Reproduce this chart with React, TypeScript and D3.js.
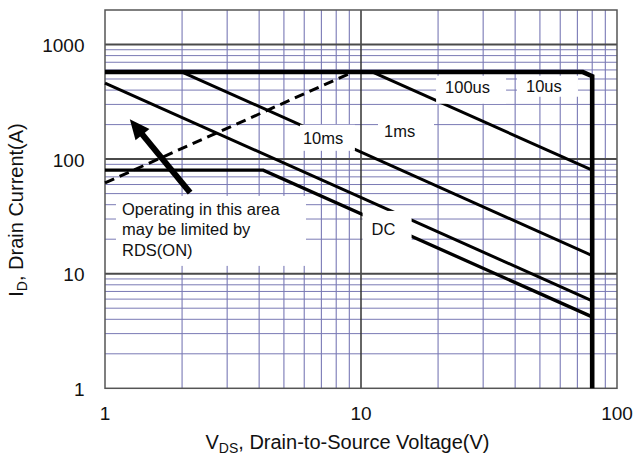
import { useEffect, useRef } from 'react';
import { scaleLog, select, line } from 'd3';

// SOA curves: drain-source voltage (V) vs drain current (A)
const rdsV = [1, 9.3];
const rdsI = [62, 575];
const limitV = [1, 73.6, 80, 80];
const limitI = [575, 575, 529, 1];
const us100V = [11.1, 80];
const us100I = [575, 80];
const ms1V = [2, 80];
const ms1I = [575, 14.4];
const ms10V = [1, 80];
const ms10I = [460, 5.8];
const dcV = [1, 4.15, 80];
const dcI = [80, 80, 4.2];

const xTickLabels = ['1', '10', '100'];
const yTickLabels = ['1', '10', '100', '1000'];

// label anchors in data units, box extents in px around the anchor
const labels = [
  { lines: ['100us'], v: 21.3, i: 379, box: [-9, 61, -17, 11] },
  { lines: ['10us'], v: 44.1, i: 387, box: [-9, 52, -16, 5] },
  { lines: ['1ms'], v: 12.3, i: 156.6, box: [-6, 50, -14, 13] },
  { lines: ['10ms'], v: 5.93, i: 136, box: [-3, 52, -19, 7] },
  { lines: ['DC'], v: 11.0, i: 21.8, box: [-9, 40, -24, 15] },
  {
    lines: ['Operating in this area', 'may be limited by', 'RDS(ON)'],
    v: 1.165,
    i: 32.6,
    box: [-6, 184, -19, 51],
  },
];

const arrowFrom = [2.15, 51];
const arrowTo = [1.25, 223];

const W = 634;
const H = 456;
const FONT = '"Liberation Sans", Arial, sans-serif';

export default function App() {
  const svgRef = useRef<SVGSVGElement>(null);

  useEffect(() => {
    if (!svgRef.current) return;
    const svg = select(svgRef.current);
    svg.selectAll('*').remove();

    const x = scaleLog().domain([1, 100]).range([105, 617]);
    const y = scaleLog().domain([1, 2000]).range([388.3, 10]);
    const [x0, x1] = x.range();
    const [y0, y1] = y.range();

    const isMajor = (v: number) => Math.abs(Math.log10(v) - Math.round(Math.log10(v))) < 1e-9;

    // minor grid
    const grid = svg.append('g');
    x.ticks().filter((t) => !isMajor(t)).forEach((t) => {
      grid.append('line')
        .attr('x1', x(t)).attr('x2', x(t)).attr('y1', y0).attr('y2', y1)
        .attr('stroke', '#6c6cae').attr('stroke-width', 1);
    });
    y.ticks().filter((t) => !isMajor(t) && t < 2000).forEach((t) => {
      grid.append('line')
        .attr('x1', x0).attr('x2', x1).attr('y1', y(t)).attr('y2', y(t))
        .attr('stroke', '#7a7ab4').attr('stroke-width', 1);
    });
    // major grid
    [10].forEach((t) => {
      grid.append('line')
        .attr('x1', x(t)).attr('x2', x(t)).attr('y1', y0).attr('y2', y1)
        .attr('stroke', '#333').attr('stroke-width', 1.5);
    });
    [10, 100, 1000].forEach((t) => {
      grid.append('line')
        .attr('x1', x0).attr('x2', x1).attr('y1', y(t)).attr('y2', y(t))
        .attr('stroke', '#4a4a4a').attr('stroke-width', 2);
    });
    // frame
    grid.append('rect')
      .attr('x', x0).attr('y', y1).attr('width', x1 - x0).attr('height', y0 - y1)
      .attr('fill', 'none').attr('stroke', '#555').attr('stroke-width', 1.5);

    const path = line<[number, number]>().x((d) => x(d[0])).y((d) => y(d[1]));
    const pts = (vs: number[], is: number[]) => vs.map((v, k) => [v, is[k]] as [number, number]);

    const curves = svg.append('g').attr('fill', 'none').attr('stroke', '#000');
    [
      { v: us100V, i: us100I, w: 3 },
      { v: ms1V, i: ms1I, w: 3 },
      { v: ms10V, i: ms10I, w: 3 },
      { v: dcV, i: dcI, w: 3.3 },
    ].forEach((c) => {
      curves.append('path').attr('d', path(pts(c.v, c.i))).attr('stroke-width', c.w);
    });
    curves.append('path')
      .attr('d', path(pts(rdsV, rdsI)))
      .attr('stroke-width', 3)
      .attr('stroke-dasharray', '10 6');

    // white label boxes hide grid and line segments
    const boxes = svg.append('g');
    labels.forEach((l) => {
      const ax = x(l.v);
      const ay = y(l.i);
      boxes.append('rect')
        .attr('x', ax + l.box[0]).attr('y', ay + l.box[2])
        .attr('width', l.box[1] - l.box[0]).attr('height', l.box[3] - l.box[2])
        .attr('fill', '#fff');
    });

    // outer limit (10us)
    svg.append('path')
      .attr('d', path(pts(limitV, limitI)))
      .attr('fill', 'none').attr('stroke', '#000').attr('stroke-width', 4.6)
      .attr('stroke-linejoin', 'miter');

    const text = svg.append('g').attr('font-family', FONT).attr('fill', '#111');
    labels.forEach((l) => {
      l.lines.forEach((s, k) => {
        text.append('text')
          .attr('x', x(l.v)).attr('y', y(l.i) + k * 20.5)
          .attr('font-size', 16.5)
          .text(s);
      });
    });

    // arrow
    const ax0 = x(arrowFrom[0]);
    const ay0 = y(arrowFrom[1]);
    const ax1 = x(arrowTo[0]);
    const ay1 = y(arrowTo[1]);
    const len = Math.hypot(ax1 - ax0, ay1 - ay0);
    const ux = (ax1 - ax0) / len;
    const uy = (ay1 - ay0) / len;
    const headL = 20;
    const headW = 9;
    const bx = ax1 - ux * headL;
    const by = ay1 - uy * headL;
    svg.append('line')
      .attr('x1', ax0).attr('y1', ay0).attr('x2', bx + ux * 2).attr('y2', by + uy * 2)
      .attr('stroke', '#000').attr('stroke-width', 6);
    svg.append('polygon')
      .attr('points', [
        [ax1, ay1],
        [bx - uy * headW, by + ux * headW],
        [bx + uy * headW, by - ux * headW],
      ].map((p) => p.join(',')).join(' '))
      .attr('fill', '#000');

    // tick labels
    const ticks = svg.append('g').attr('font-family', FONT).attr('font-size', 19).attr('fill', '#111');
    x.ticks().filter(isMajor).forEach((t, k) => {
      ticks.append('text')
        .attr('x', x(t)).attr('y', 420)
        .attr('text-anchor', 'middle')
        .text(xTickLabels[k]);
    });
    y.ticks().filter(isMajor).forEach((t, k) => {
      ticks.append('text')
        .attr('x', 84.5).attr('y', y(t) + 7.5)
        .attr('text-anchor', 'end')
        .text(yTickLabels[k]);
    });

    // axis titles
    const xt = svg.append('text')
      .attr('font-family', FONT).attr('font-size', 20).attr('fill', '#111')
      .attr('x', 347.5).attr('y', 449).attr('text-anchor', 'middle');
    xt.append('tspan').text('V');
    xt.append('tspan').attr('font-size', 14).attr('dy', 4).text('DS');
    xt.append('tspan').attr('dy', -4).text(', Drain-to-Source Voltage(V)');

    const yt = svg.append('text')
      .attr('font-family', FONT).attr('font-size', 20).attr('fill', '#111')
      .attr('transform', 'translate(23,210) rotate(-90)').attr('text-anchor', 'middle');
    yt.append('tspan').text('I');
    yt.append('tspan').attr('font-size', 14).attr('dy', 4).text('D');
    yt.append('tspan').attr('dy', -4).text(', Drain Current(A)');
  }, []);

  return (
    <svg
      ref={svgRef}
      width={W}
      height={H}
      style={{ position: 'absolute', left: 0, top: 0, background: '#fff' }}
    />
  );
}
